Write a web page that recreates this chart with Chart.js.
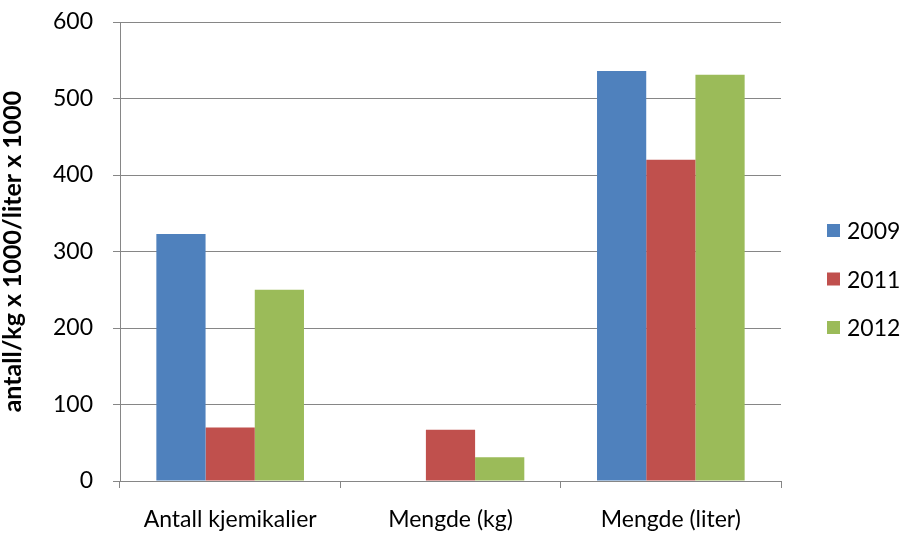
<!DOCTYPE html>
<html>
<head>
<meta charset="utf-8">
<script src="https://cdn.jsdelivr.net/npm/chart.js@4"></script>
<style>
  html, body { margin: 0; padding: 0; background: #fff; }
  #wrap { width: 905px; height: 535px; }
</style>
</head>
<body>
<div id="wrap"><canvas id="c" width="905" height="535"></canvas></div>
<script>
// Categories and yearly series
const categories = ['Antall kjemikalier', 'Mengde (kg)', 'Mengde (liter)'];
const years = ['2009', '2011', '2012'];
const values2009 = [323, 0, 536];
const values2011 = [70, 67, 420];
const values2012 = [250, 31, 531];
const yTicks = [0, 100, 200, 300, 400, 500, 600];
const yTitle = 'antall/kg x 1000/liter x 1000';

const colors = ['#4F81BD', '#C0504D', '#9BBB59'];
const FONT = 'Lato, "Open Sans", sans-serif';

// Legend drawn at the right of the plot, one row per year
const sideLegend = {
  id: 'sideLegend',
  afterDraw(chart) {
    const ctx = chart.ctx;
    ctx.save();
    ctx.font = '23px ' + FONT;
    ctx.textBaseline = 'middle';
    ctx.textAlign = 'left';
    chart.data.datasets.forEach((ds, i) => {
      const y = 231 + i * 48.5;
      ctx.fillStyle = ds.backgroundColor;
      ctx.fillRect(827, y - 7, 13, 13);
      ctx.fillStyle = '#000';
      ctx.fillText(ds.label, 847, y + 1);
    });
    ctx.restore();
  }
};

new Chart(document.getElementById('c'), {
  type: 'bar',
  data: {
    labels: categories,
    datasets: [
      { label: years[0], data: values2009, backgroundColor: colors[0] },
      { label: years[1], data: values2011, backgroundColor: colors[1] },
      { label: years[2], data: values2012, backgroundColor: colors[2] }
    ]
  },
  options: {
    responsive: false,
    animation: false,
    layout: { padding: { top: 22, right: 124, left: 0, bottom: 0 } },
    datasets: { bar: { categoryPercentage: 0.67, barPercentage: 1.0 } },
    plugins: {
      legend: { display: false },
      tooltip: { enabled: false }
    },
    scales: {
      x: {
        grid: { drawOnChartArea: false, drawTicks: true, tickLength: 7, color: '#868686', offset: true },
        border: { color: '#868686', width: 1 },
        ticks: { color: '#000', font: { family: FONT, size: 23 }, padding: 18 },
        afterFit(scale) {
          scale.height = 54;
          scale.paddingLeft = 0; scale.paddingRight = 0;
        }
      },
      y: {
        min: 0, max: 600,
        afterBuildTicks(scale) { scale.ticks = yTicks.map(v => ({ value: v })); },
        grid: { color: '#868686', tickLength: 7 },
        border: { color: '#868686', width: 1 },
        ticks: { color: '#000', font: { family: FONT, size: 23 }, padding: 20 },
        title: {
          display: true, text: yTitle, color: '#000',
          font: { family: FONT, size: 25, weight: 'bold', lineHeight: 1.0 },
          padding: { top: 0, bottom: 0 }
        },
        afterFit(scale) {
          scale.width = 120;
          scale.paddingTop = 0; scale.paddingBottom = 0;
        }
      }
    }
  },
  plugins: [sideLegend]
});
</script>
</body>
</html>
